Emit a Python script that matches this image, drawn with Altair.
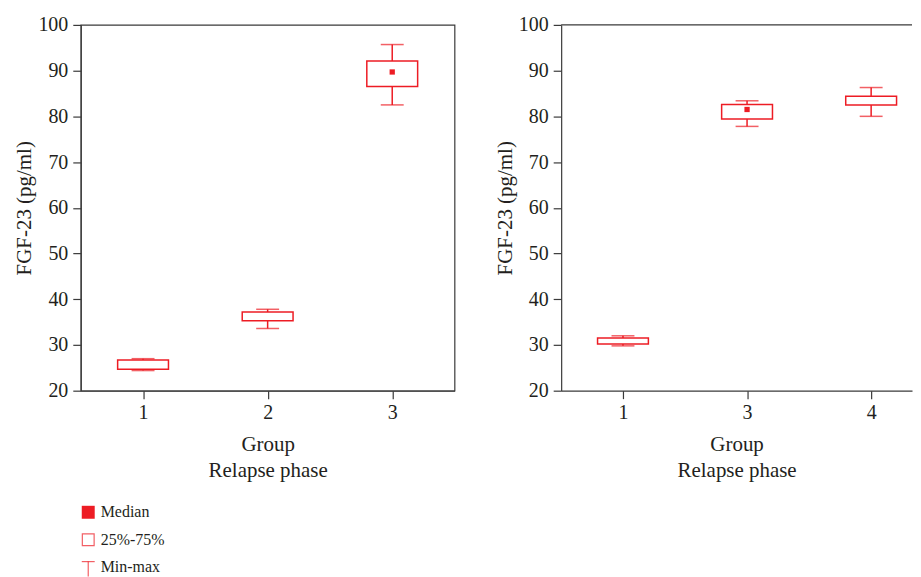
import altair as alt
import pandas as pd

RED = "#ed1c24"
INK = "#231f20"
AX = "#3a3a3a"
FONT = "Liberation Serif"

# Left panel
left_groups = ["1", "2", "3"]
left_min = [24.4, 33.6, 82.5]
left_q1 = [24.7, 35.3, 86.5]
left_q3 = [26.7, 37.2, 92.1]
left_max = [27.0, 37.8, 95.7]
left_median = [None, None, 89.7]

# Right panel
right_groups = ["1", "3", "4"]
right_min = [29.8, 77.8, 80.0]
right_q1 = [30.2, 79.4, 82.5]
right_q3 = [31.5, 82.6, 84.4]
right_max = [32.0, 83.4, 86.3]
right_median = [None, 81.5, None]

y_ticks = [20, 30, 40, 50, 60, 70, 80, 90, 100]
y_title = "FGF-23 (pg/ml)"
x_title = ["Group", "Relapse phase"]

legend_labels = ["Median", "25%-75%", "Min-max"]


def panel(groups, mn, q1, q3, mx, med, width, xscale, full_frame):
    df = pd.DataFrame({"group": groups, "min": mn, "q1": q1, "q3": q3, "max": mx})
    mdf = pd.DataFrame({"group": groups, "median": med}).dropna()
    x = alt.X("group:N", scale=xscale, sort=groups,
              axis=alt.Axis(title=x_title, labelAngle=0, labelPadding=4,
                            titlePadding=11, titleLineHeight=26))
    yscale = alt.Scale(domain=[20, 100], nice=False, zero=False)
    yaxis = alt.Axis(title=y_title, values=y_ticks, labelPadding=5, titlePadding=3)
    base = alt.Chart(df)
    whisk = base.mark_rule(color=RED, strokeWidth=1.5).encode(
        x=x, y=alt.Y("min:Q", scale=yscale, axis=yaxis), y2="max:Q")
    box = base.mark_bar(size=51, fill="white", stroke=RED, strokeWidth=1.5).encode(
        x=x, y=alt.Y("q1:Q", scale=yscale), y2="q3:Q")
    cap_lo = base.mark_tick(color=RED, size=23, thickness=1.5, orient="horizontal").encode(
        x=x, y=alt.Y("min:Q", scale=yscale))
    cap_hi = base.mark_tick(color=RED, size=23, thickness=1.5, orient="horizontal").encode(
        x=x, y=alt.Y("max:Q", scale=yscale))
    medm = alt.Chart(mdf).mark_square(size=28, color=RED, opacity=1).encode(
        x=x, y=alt.Y("median:Q", scale=yscale))
    layers = [whisk, box, cap_lo, cap_hi, medm]
    if not full_frame:
        top = alt.Chart(pd.DataFrame({"v": [100]})).mark_rule(color=AX, strokeWidth=1.2).encode(
            y=alt.Y("v:Q", scale=yscale), x=alt.value(0), x2=alt.value(width))
        layers.append(top)
    ch = alt.layer(*layers).properties(width=width, height=367)
    if full_frame:
        ch = ch.properties(view=alt.ViewBackground(stroke=AX, strokeWidth=1.2))
    else:
        ch = ch.properties(view=alt.ViewBackground(stroke=None))
    return ch


left = panel(left_groups, left_min, left_q1, left_q3, left_max, left_median, 375,
             alt.Scale(type="point", padding=0.5), True)
right = panel(right_groups, right_min, right_q1, right_q3, right_max, right_median, 352,
              alt.Scale(type="point", padding=0.4137, align=0.602), False)

# Legend
ldf = pd.DataFrame({"label": legend_labels})
ly = alt.Y("label:N", scale=alt.Scale(type="point", domain=legend_labels, range=[14, 69], padding=0),
           axis=None)
GX = 7.5
TX = 20
lbase = alt.Chart(ldf)
sq_fill = lbase.transform_filter(alt.datum.label == legend_labels[0]).mark_square(
    size=169, color=RED, opacity=1).encode(y=ly, x=alt.value(GX))
sq_open = lbase.transform_filter(alt.datum.label == legend_labels[1]).mark_square(
    size=140, filled=False, stroke=RED, strokeWidth=1.2).encode(y=ly, x=alt.value(GX))
t_bar = lbase.transform_filter(alt.datum.label == legend_labels[2]).mark_tick(
    color=RED, size=13, thickness=1.2, orient="horizontal", yOffset=-5.5).encode(y=ly, x=alt.value(GX))
t_stem = lbase.transform_filter(alt.datum.label == legend_labels[2]).mark_tick(
    color=RED, size=15, thickness=1.2, orient="vertical", yOffset=2).encode(y=ly, x=alt.value(GX))
ltext = lbase.mark_text(align="left", baseline="middle", font=FONT, fontSize=16, color=INK).encode(
    y=ly, x=alt.value(TX), text="label:N")
legend = alt.layer(sq_fill, sq_open, t_bar, t_stem, ltext).properties(
    width=200, height=74, view=alt.ViewBackground(stroke=None))

chart = alt.vconcat(
    alt.hconcat(left, right, spacing=39),
    legend,
    spacing=17,
).properties(
    padding={"left": 5, "top": 5, "right": 0, "bottom": 0}
).configure_axis(
    grid=False,
    domainColor=AX, tickColor=AX, domainWidth=1.2, tickWidth=1.2, tickSize=8,
    labelColor=INK, titleColor=INK, labelFont=FONT, titleFont=FONT,
    labelFontSize=20, titleFontSize=21, titleFontWeight="normal",
).configure_view(stroke=None)

chart.save("out.html", embed_options={"renderer": "svg", "actions": False})
